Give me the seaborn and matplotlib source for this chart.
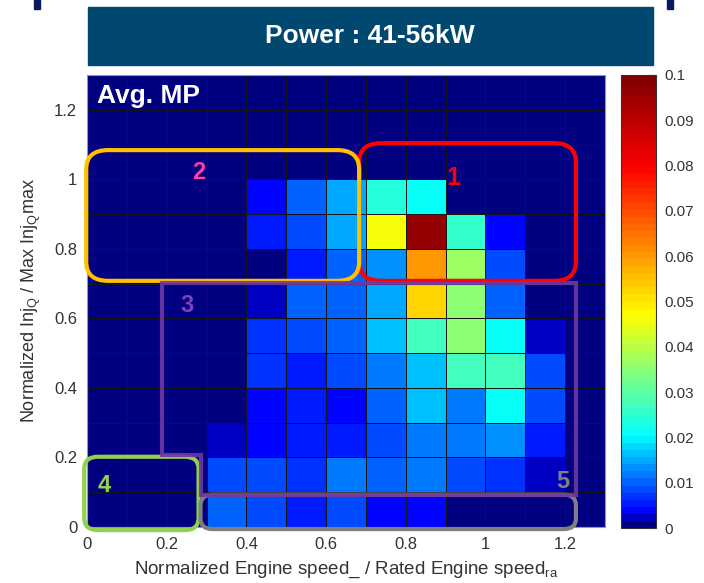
import numpy as np
import pandas as pd
import matplotlib
matplotlib.use("Agg")
import matplotlib.pyplot as plt
import seaborn as sns
from matplotlib.colors import LinearSegmentedColormap
from matplotlib.patches import FancyBboxPatch, Polygon, Rectangle

# ---------------- data ----------------
speed_bins = [0.0, 0.1, 0.2, 0.3, 0.4, 0.5, 0.6, 0.7, 0.8, 0.9, 1.0, 1.1, 1.2]
injq_bins = [0.0, 0.1, 0.2, 0.3, 0.4, 0.5, 0.6, 0.7, 0.8, 0.9, 1.0, 1.1, 1.2]
x_tick_labels = ["0", "0.2", "0.4", "0.6", "0.8", "1", "1.2"]
y_tick_labels = ["0", "0.2", "0.4", "0.6", "0.8", "1", "1.2"]
cbar_ticks = [0, 0.01, 0.02, 0.03, 0.04, 0.05, 0.06, 0.07, 0.08, 0.09, 0.1]

# rows from InjQ = 0.0 (bottom) to 1.2 (top); columns = speed bins
avg_mp = [
    [0, 0, 0, 0.0107, 0.0080, 0.0056, 0.0080, 0.0044, 0.0044, 0, 0, 0, 0],
    [0, 0, 0, 0.0090, 0.0080, 0.0064, 0.0124, 0.0107, 0.0115, 0.0080, 0.0073, 0.0030, 0],
    [0, 0, 0, 0.0030, 0.0039, 0.0056, 0.0047, 0.0080, 0.0124, 0.0124, 0.0132, 0.0056, 0],
    [0, 0, 0, 0, 0.0039, 0.0056, 0.0039, 0.0098, 0.0166, 0.0124, 0.0210, 0.0090, 0],
    [0, 0, 0, 0, 0.0064, 0.0047, 0.0080, 0.0124, 0.0158, 0.0280, 0.0280, 0.0090, 0],
    [0, 0, 0, 0, 0.0073, 0.0090, 0.0098, 0.0166, 0.0280, 0.0350, 0.0210, 0.0030, 0],
    [0, 0, 0, 0, 0.0030, 0.0098, 0.0107, 0.0149, 0.0520, 0.0350, 0.0107, 0, 0],
    [0, 0, 0, 0, 0, 0.0047, 0.0107, 0.0140, 0.0600, 0.0360, 0.0080, 0, 0],
    [0, 0, 0, 0, 0.0056, 0.0090, 0.0150, 0.0460, 0.0960, 0.0254, 0.0040, 0, 0],
    [0, 0, 0, 0, 0.0039, 0.0098, 0.0152, 0.0240, 0.0210, 0, 0, 0, 0],
    [0, 0, 0, 0, 0, 0, 0, 0, 0, 0, 0, 0, 0],
    [0, 0, 0, 0, 0, 0, 0, 0, 0, 0, 0, 0, 0],
    [0, 0, 0, 0, 0, 0, 0, 0, 0, 0, 0, 0, 0],
]

df = pd.DataFrame(avg_mp, index=injq_bins, columns=speed_bins)

# ---------------- style ----------------
sns.set_style("white")
plt.rcParams["font.family"] = ["Liberation Sans", "DejaVu Sans"]
plt.rcParams["mathtext.fontset"] = "custom"
plt.rcParams["mathtext.rm"] = "Liberation Sans"
plt.rcParams["mathtext.it"] = "Liberation Sans:italic"
plt.rcParams["mathtext.bf"] = "Liberation Sans:bold"

cmap = LinearSegmentedColormap.from_list(
    "jetlike",
    [(0.0, (0, 0, 0.5)), (0.03, (0, 0, 1)), (0.2, (0, 1, 1)),
     (0.335, (0.5, 1, 0.5)), (0.47, (1, 1, 0)), (0.8, (1, 0, 0)),
     (1.0, (0.5, 0, 0))], N=64)

fig = plt.figure(figsize=(7.04, 5.83), dpi=100)
W, H = 704, 583
ax = fig.add_axes([87 / W, 1 - 527 / H, 518 / W, 452 / H])
cax = fig.add_axes([621 / W, 1 - 528 / H, 35 / W, 453 / H])

sns.heatmap(df, ax=ax, cmap=cmap, vmin=0, vmax=0.1, linewidths=0.6,
            linecolor="#151515", cbar_ax=cax,
            cbar_kws={"ticks": cbar_ticks},
            xticklabels=False, yticklabels=False)
ax.set_ylim(0, len(injq_bins))
ax.set_xlim(0, len(speed_bins))

tick_pos = np.arange(0, 13, 2)
ax.set_xticks(tick_pos)
ax.set_xticklabels(x_tick_labels)
ax.set_yticks(tick_pos)
ax.set_yticklabels(y_tick_labels)
ax.tick_params(axis="both", length=0, labelsize=12, colors="#333333", pad=7)
for s in ax.spines.values():
    s.set_visible(True)
    s.set_color("#999999")
    s.set_linewidth(0.8)

ax.set_ylabel(r"Normalized Inj$_\mathrm{Q}$ / Max Inj$_\mathrm{Q}$max",
              fontsize=13, color="#333333", labelpad=8)
ax.set_xlabel(r"Normalized Engine speed_ / Rated Engine speed$_\mathrm{ra}$",
              fontsize=13.5, color="#333333", labelpad=6)

# colorbar styling
cbar = ax.collections[0].colorbar
cbar.ax.tick_params(direction="in", length=4, width=0.8, colors="#333333",
                    labelsize=11, pad=6)
cbar.ax.set_yticklabels(["0", "0.01", "0.02", "0.03", "0.04", "0.05",
                         "0.06", "0.07", "0.08", "0.09", "0.1"])
cbar.outline.set_edgecolor("#333333")
cbar.outline.set_linewidth(0.8)

# ---------------- annotations ----------------
ax.text(0.25, 12.4, "Avg. MP", color="white", fontsize=19,
        fontweight="bold", ha="left", va="center")


def rbox(x0, y0, x1, y1, color, r=0.5):
    p = FancyBboxPatch((x0, y0), x1 - x0, y1 - y0,
                       boxstyle=f"round,pad=0,rounding_size={r}",
                       fill=False, edgecolor=color, linewidth=3,
                       clip_on=False, zorder=5)
    ax.add_patch(p)


rbox(6.83, 7.08, 12.27, 11.04, "#FF0000", 0.55)
rbox(-0.02, 7.08, 6.83, 10.84, "#FFC000", 0.55)
purple = Polygon([(1.875, 7.02), (12.27, 7.02), (12.27, 0.93), (2.85, 0.93),
                  (2.85, 2.08), (1.875, 2.08)], closed=True, fill=False,
                 edgecolor="#7038A0", linewidth=3, clip_on=False, zorder=6,
                 joinstyle="miter", alpha=0.9)
ax.add_patch(purple)
rbox(-0.07, -0.09, 2.8, 2.02, "#92D050", 0.35)
rbox(2.85, -0.06, 12.27, 0.93, "#7F7F7F", 0.3)

ax.text(9.2, 10.03, "1", color="#FF0000", fontsize=18, fontweight="bold",
        ha="center", va="center", zorder=7)
ax.text(2.8, 10.2, "2", color="#FF3F9F", fontsize=17, fontweight="bold",
        ha="center", va="center", zorder=7)
ax.text(2.5, 6.36, "3", color="#7F3FBF", fontsize=17, fontweight="bold",
        ha="center", va="center", zorder=7)
ax.text(0.42, 1.18, "4", color="#92D050", fontsize=17, fontweight="bold",
        ha="center", va="center", zorder=7)
ax.text(11.95, 1.3, "5", color="#808080", fontsize=17, fontweight="bold",
        ha="center", va="center", zorder=7)

# title banner
fig.patches.append(Rectangle((88 / W, 1 - 65 / H), (653 - 88) / W, 58 / H,
                             transform=fig.transFigure, color="#00486F",
                             zorder=0))
fig.patches.append(Rectangle((34 / W, 1 - 9 / H), 6 / W, 9 / H,
                             transform=fig.transFigure, color="#0A1A5C"))
fig.patches.append(Rectangle((667 / W, 1 - 9 / H), 6 / W, 9 / H,
                             transform=fig.transFigure, color="#0A1A5C"))
fig.text(370 / W, 1 - 36 / H, "Power : 41-56kW", color="white",
         fontsize=19, fontweight="bold", ha="center", va="center")

fig.savefig("out.png", dpi=100)
